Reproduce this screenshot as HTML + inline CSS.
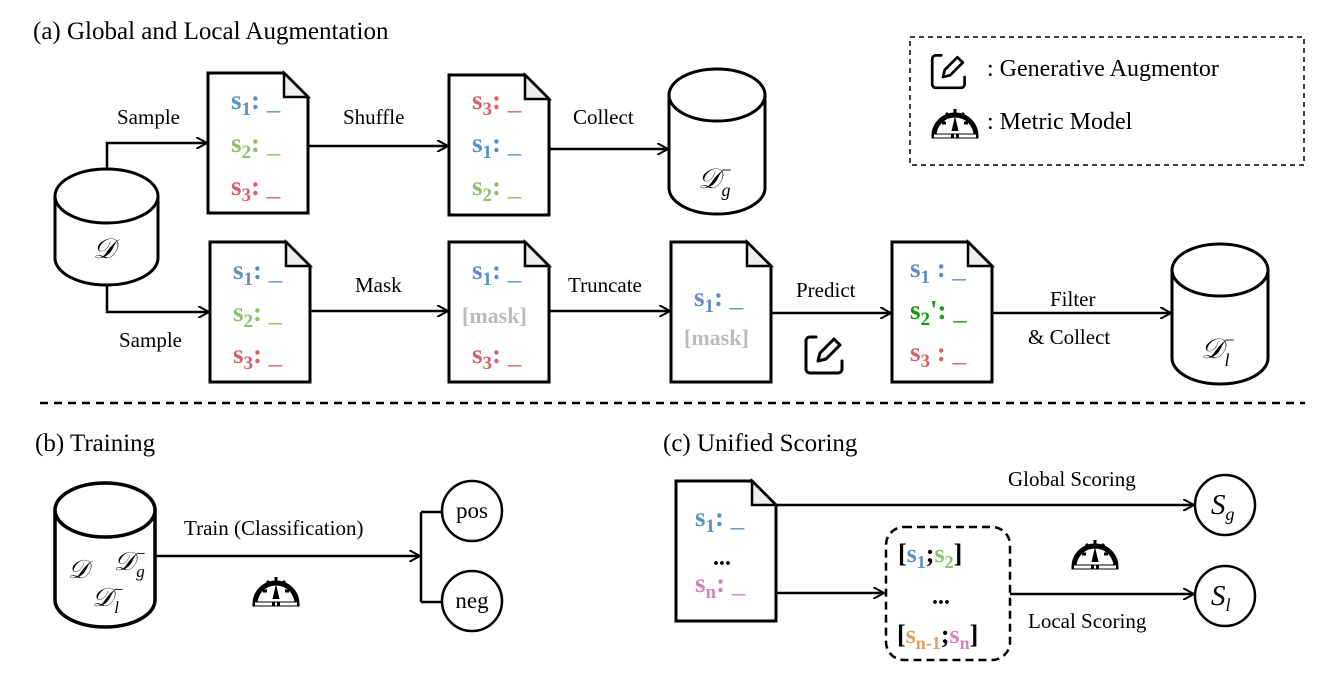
<!DOCTYPE html>
<html><head><meta charset="utf-8"><style>
body{margin:0;background:#fff}
svg text{font-family:"Liberation Serif",serif;}
.l{font-size:21px;fill:#000}
.s{font-size:27px;font-weight:bold}
.b{fill:#5b8fc7}.g{fill:#8cc06a}.r{fill:#d9606a}.gr{fill:#bbb}.dg{fill:#119911}.p{fill:#d683b8}.o{fill:#e0a060}
.cal{font-size:28px;font-style:italic}
</style></head><body>
<svg width="1329" height="669" viewBox="0 0 1329 669" xmlns="http://www.w3.org/2000/svg">
<defs>
<marker id="a" markerWidth="12" markerHeight="12" refX="11" refY="6" orient="auto" markerUnits="userSpaceOnUse"><path d="M0,0 L11,6 L0,12" fill="none" stroke="#000" stroke-width="2"/></marker>
<g id="doc"><path d="M0,0 H76 L100,24 V140 H0 Z" fill="#fff" stroke="#000" stroke-width="3"/><path d="M76,0 V24 H100 Z" fill="#eee" stroke="#000" stroke-width="2.5"/></g>
<g id="pen"><path d="M-12,-14 h-6 a4,4 0 0 0 -4,4 v28 a4,4 0 0 0 4,4 h28 a4,4 0 0 0 4,-4 v-8" fill="none" stroke="#000" stroke-width="3" stroke-linecap="round"/><path d="M-10,10 l2,-8 l14,-14 l6,6 l-14,14 z" fill="none" stroke="#000" stroke-width="3" stroke-linejoin="round"/></g>
<g id="met"><path d="M-21,14 A21,21 0 1 1 21,14 Z" fill="#fff" stroke="#000" stroke-width="5"/><path d="M0,-13 v4 M-13,1 h4 M13,1 h-4 M-9,-9 l2,2 M9,-9 l-2,2" stroke="#000" stroke-width="3"/><path d="M0,-6 L3.5,9 H-3.5 Z" fill="#000"/><path d="M-21,14 h42" stroke="#fff" stroke-width="3" stroke-dasharray="17 3 2 3"/></g>
</defs>

<text x="33" y="39" style="font-size:25px">(a) Global and Local Augmentation</text>

<!-- legend -->
<rect x="910" y="37" width="394" height="128" fill="none" stroke="#000" stroke-width="1.5" stroke-dasharray="5 4"/>
<g transform="translate(952,68) scale(0.9)"><use href="#pen"/></g>
<text x="987" y="76" class="l" style="font-size:24px">: Generative Augmentor</text>
<g transform="translate(955,122)"><use href="#met"/></g>
<text x="987" y="129" class="l" style="font-size:24px">: Metric Model</text>

<!-- D cylinder -->
<path d="M55,196 V258 A51.5,27 0 0 0 158,258 V196" fill="#fff" stroke="#000" stroke-width="3"/>
<ellipse cx="106.5" cy="196" rx="51.5" ry="27" fill="#fff" stroke="#000" stroke-width="3"/>
<text x="93" y="258" class="cal">𝒟</text>

<path d="M107,169 V143 H207" fill="none" stroke="#000" stroke-width="2.5" marker-end="url(#a)"/>
<path d="M107,285 V312 H209" fill="none" stroke="#000" stroke-width="2.5" marker-end="url(#a)"/>
<text x="117" y="124" class="l">Sample</text>
<text x="119" y="347" class="l">Sample</text>

<!-- top row -->
<g transform="translate(208,73)"><use href="#doc"/></g>
<text x="231" y="109" class="s b">s<tspan font-size="19" dy="6">1</tspan><tspan dy="-6">:</tspan> <tspan font-weight="normal">_</tspan></text>
<text x="231" y="152" class="s g">s<tspan font-size="19" dy="6">2</tspan><tspan dy="-6">:</tspan> <tspan font-weight="normal">_</tspan></text>
<text x="231" y="195" class="s r">s<tspan font-size="19" dy="6">3</tspan><tspan dy="-6">:</tspan> <tspan font-weight="normal">_</tspan></text>
<path d="M309,146 H448" stroke="#000" stroke-width="2.5" marker-end="url(#a)"/>
<text x="343" y="124" class="l">Shuffle</text>
<g transform="translate(449,75)"><use href="#doc"/></g>
<text x="472" y="109" class="s r">s<tspan font-size="19" dy="6">3</tspan><tspan dy="-6">:</tspan> <tspan font-weight="normal">_</tspan></text>
<text x="472" y="152" class="s b">s<tspan font-size="19" dy="6">1</tspan><tspan dy="-6">:</tspan> <tspan font-weight="normal">_</tspan></text>
<text x="472" y="195" class="s g">s<tspan font-size="19" dy="6">2</tspan><tspan dy="-6">:</tspan> <tspan font-weight="normal">_</tspan></text>
<path d="M549,149 H668" stroke="#000" stroke-width="2.5" marker-end="url(#a)"/>
<text x="573" y="124" class="l">Collect</text>
<!-- Dg cylinder -->
<path d="M669,95 V188 A48,26 0 0 0 765,188 V95" fill="#fff" stroke="#000" stroke-width="3"/>
<ellipse cx="717" cy="95" rx="48" ry="26" fill="#fff" stroke="#000" stroke-width="3"/>
<text x="698" y="188" class="cal">𝒟<tspan font-size="18" dy="-12">−</tspan><tspan font-size="18" dx="-11" dy="20">g</tspan></text>

<!-- bottom row -->
<g transform="translate(210,242)"><use href="#doc"/></g>
<text x="233" y="279" class="s b">s<tspan font-size="19" dy="6">1</tspan><tspan dy="-6">:</tspan> <tspan font-weight="normal">_</tspan></text>
<text x="233" y="321" class="s g">s<tspan font-size="19" dy="6">2</tspan><tspan dy="-6">:</tspan> <tspan font-weight="normal">_</tspan></text>
<text x="233" y="363" class="s r">s<tspan font-size="19" dy="6">3</tspan><tspan dy="-6">:</tspan> <tspan font-weight="normal">_</tspan></text>
<path d="M311,311 H448" stroke="#000" stroke-width="2.5" marker-end="url(#a)"/>
<text x="355" y="292" class="l">Mask</text>
<g transform="translate(449,242)"><use href="#doc"/></g>
<text x="472" y="279" class="s b">s<tspan font-size="19" dy="6">1</tspan><tspan dy="-6">:</tspan> <tspan font-weight="normal">_</tspan></text>
<text x="462" y="323" class="gr" style="font-size:22px;font-weight:bold">[mask]</text>
<text x="472" y="363" class="s r">s<tspan font-size="19" dy="6">3</tspan><tspan dy="-6">:</tspan> <tspan font-weight="normal">_</tspan></text>
<path d="M549,311 H670" stroke="#000" stroke-width="2.5" marker-end="url(#a)"/>
<text x="568" y="292" class="l">Truncate</text>
<g transform="translate(671,242)"><use href="#doc"/></g>
<text x="694" y="306" class="s b">s<tspan font-size="19" dy="6">1</tspan><tspan dy="-6">:</tspan> <tspan font-weight="normal">_</tspan></text>
<text x="684" y="345" class="gr" style="font-size:22px;font-weight:bold">[mask]</text>
<path d="M771,313 H891" stroke="#000" stroke-width="2.5" marker-end="url(#a)"/>
<text x="796" y="297" class="l">Predict</text>
<g transform="translate(828,351)"><use href="#pen"/></g>
<g transform="translate(892,242)"><use href="#doc"/></g>
<text x="910" y="277" class="s b">s<tspan font-size="19" dy="6">1</tspan><tspan dy="-6"> :</tspan> <tspan font-weight="normal">_</tspan></text>
<text x="910" y="319" class="s dg">s<tspan font-size="19" dy="6">2</tspan><tspan dy="-6">':</tspan> <tspan font-weight="normal">_</tspan></text>
<text x="910" y="361" class="s r">s<tspan font-size="19" dy="6">3</tspan><tspan dy="-6"> :</tspan> <tspan font-weight="normal">_</tspan></text>
<path d="M992,313 H1171" stroke="#000" stroke-width="2.5" marker-end="url(#a)"/>
<text x="1050" y="306" class="l">Filter</text>
<text x="1028" y="344" class="l">&amp; Collect</text>
<!-- Dl cylinder -->
<path d="M1172,270 V358 A48,26 0 0 0 1268,358 V270" fill="#fff" stroke="#000" stroke-width="3"/>
<ellipse cx="1220" cy="270" rx="48" ry="26" fill="#fff" stroke="#000" stroke-width="3"/>
<text x="1201" y="358" class="cal">𝒟<tspan font-size="18" dy="-12">−</tspan><tspan font-size="18" dx="-11" dy="20">l</tspan></text>

<path d="M40,403 H1305" stroke="#000" stroke-width="2.5" stroke-dasharray="8 6"/>

<!-- (b) -->
<text x="35" y="451" style="font-size:25px">(b) Training</text>
<path d="M55,510 V600 A50,27 0 0 0 155,600 V510" fill="#fff" stroke="#000" stroke-width="3.5"/>
<ellipse cx="105" cy="510" rx="50" ry="27" fill="#fff" stroke="#000" stroke-width="3.5"/>
<text x="68" y="578" class="cal" style="font-size:26px">𝒟</text>
<text x="114" y="570" class="cal" style="font-size:26px">𝒟<tspan font-size="17" dy="-11">−</tspan><tspan font-size="17" dx="-10" dy="18">g</tspan></text>
<text x="92" y="606" class="cal" style="font-size:26px">𝒟<tspan font-size="17" dy="-11">−</tspan><tspan font-size="17" dx="-10" dy="18">l</tspan></text>
<path d="M155,556 H420" stroke="#000" stroke-width="2.5" marker-end="url(#a)"/>
<path d="M421,512 V602 M421,512 H442 M421,602 H442" fill="none" stroke="#000" stroke-width="2.5"/>
<text x="184" y="535" class="l">Train (Classification)</text>
<g transform="translate(276,590)"><use href="#met"/></g>
<circle cx="472" cy="511" r="30" fill="#fff" stroke="#000" stroke-width="2.5"/>
<text x="472" y="518" class="l" text-anchor="middle" style="font-size:23px">pos</text>
<circle cx="472" cy="601" r="30" fill="#fff" stroke="#000" stroke-width="2.5"/>
<text x="472" y="608" class="l" text-anchor="middle" style="font-size:23px">neg</text>

<!-- (c) -->
<text x="663" y="451" style="font-size:25px">(c) Unified Scoring</text>
<g transform="translate(676,481)"><use href="#doc"/></g>
<text x="695" y="526" class="s b">s<tspan font-size="19" dy="6">1</tspan><tspan dy="-6">:</tspan> <tspan font-weight="normal">_</tspan></text>
<text x="713" y="565" style="font-size:24px;font-weight:bold">...</text>
<text x="695" y="592" class="s p">s<tspan font-size="19" dy="6">n</tspan><tspan dy="-6">:</tspan> <tspan font-weight="normal">_</tspan></text>
<path d="M776,505 H1194" stroke="#000" stroke-width="2.5" marker-end="url(#a)"/>
<text x="1008" y="486" class="l">Global Scoring</text>
<path d="M775,593 H884" stroke="#000" stroke-width="2.5" marker-end="url(#a)"/>
<rect x="886" y="527" width="124" height="133" rx="18" fill="none" stroke="#000" stroke-width="2.5" stroke-dasharray="8 5"/>
<text x="898" y="562" style="font-size:26px;font-weight:bold">[<tspan class="b">s<tspan font-size="18" dy="6">1</tspan></tspan><tspan dy="-6">;</tspan><tspan class="g">s<tspan font-size="18" dy="6">2</tspan></tspan><tspan dy="-6">]</tspan></text>
<text x="932" y="604" style="font-size:24px;font-weight:bold">...</text>
<text x="897" y="643" style="font-size:26px;font-weight:bold">[<tspan class="o">s<tspan font-size="18" dy="6">n-1</tspan></tspan><tspan dy="-6">;</tspan><tspan class="p">s<tspan font-size="18" dy="6">n</tspan></tspan><tspan dy="-6">]</tspan></text>
<path d="M1010,594 H1194" stroke="#000" stroke-width="2.5" marker-end="url(#a)"/>
<text x="1028" y="628" class="l">Local Scoring</text>
<g transform="translate(1095,553)"><use href="#met"/></g>
<circle cx="1225" cy="505" r="30" fill="#fff" stroke="#000" stroke-width="2.5"/>
<text x="1211" y="514" style="font-size:29px;font-style:italic">S<tspan font-size="18" dy="6">g</tspan></text>
<circle cx="1225" cy="596" r="30" fill="#fff" stroke="#000" stroke-width="2.5"/>
<text x="1211" y="605" style="font-size:29px;font-style:italic">S<tspan font-size="18" dy="6">l</tspan></text>
</svg>
</body></html>
